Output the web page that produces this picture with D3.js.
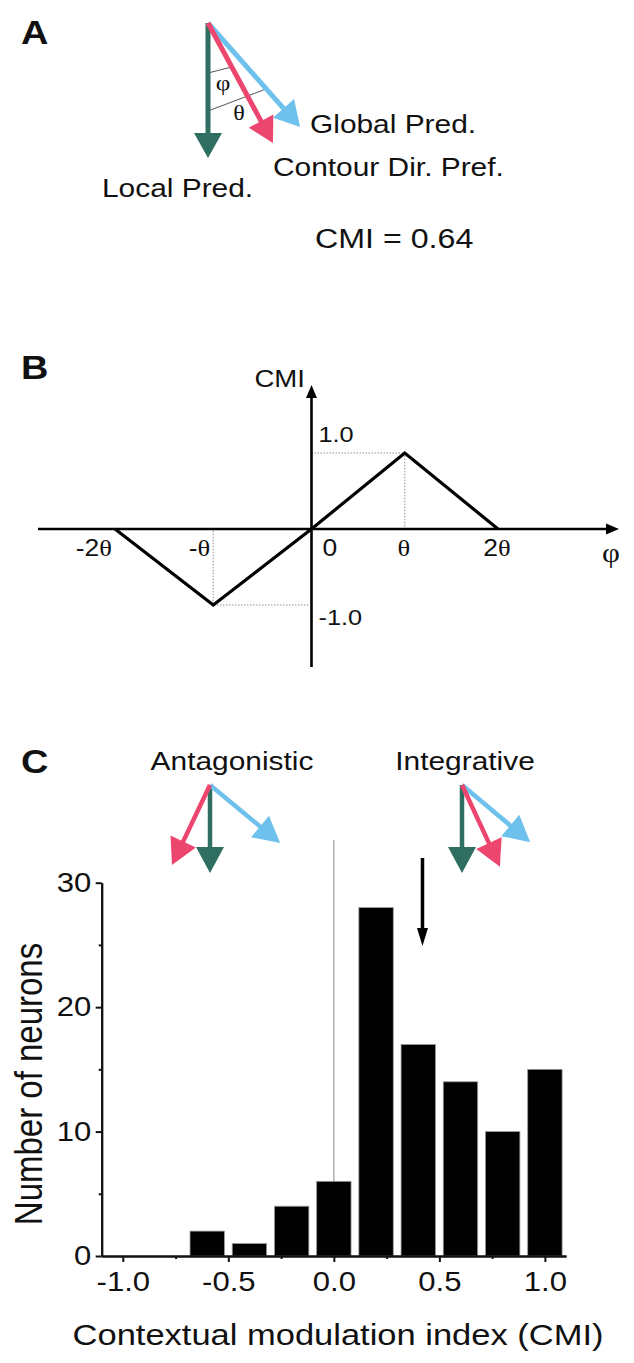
<!DOCTYPE html>
<html lang="en">
<head>
<meta charset="UTF-8">
<title>CMI</title>
<script src="https://d3js.org/d3.v7.min.js" charset="utf-8"></script>
<style>
    body { margin: 0; background: #fff; }
    text { font-family: "Liberation Sans", Arial, sans-serif; fill: #111; }
    .greek { font-family: "Liberation Serif", "Times New Roman", serif; }
</style>
</head>
<body>
<script>
    // panel A: direction of each vector, degrees away from the local prediction
    let vecNames = ["Local Pred.", "Contour Dir. Pref.", "Global Pred."];
    let anglesA = [0, 28.4, 41.5];
    let cmiExample = 0.64;

    // panel B: CMI as a function of phi (in units of theta)
    let phiValues = [-2, -1, 0, 1, 2];
    let cmiValues = [0, -1, 0, 1, 0];
    let phiLabels = ["-2θ", "-θ", "0", "θ", "2θ"];

    // panel C
    let anglesAntag = [0, -25.4, 50.4];
    let anglesInteg = [0, 24.9, 50];
    let binCenters = [-1.0, -0.8, -0.6, -0.4, -0.2, 0.0, 0.2, 0.4, 0.6, 0.8, 1.0];
    let counts = [0, 0, 2, 1, 4, 6, 28, 17, 14, 10, 15];
    let xTicksC = [-1.0, -0.5, 0.0, 0.5, 1.0];
    let xMinorC = [-0.75, -0.25, 0.25, 0.75];
    let yTicksC = [0, 10, 20, 30];
    let yMinorC = [5, 15, 25];
    let meanCMI = 0.42;

    const colors = ["#2f6f61", "#ec466f", "#6ec1ec"];
    const SX = 1.15; // the figure is a bit wider than tall, text too

    let svg = d3.select("body").append("svg").attr("width", 634).attr("height", 1363);

    // text with greek letters in a serif face
    function label(g, x, y, s, size, anchor) {
        let t = g.append("text")
            .attr("transform", "translate(" + x + "," + y + ") scale(" + SX + ",1)")
            .attr("font-size", size)
            .attr("text-anchor", anchor || "start");
        s.split(/([θφ])/).filter(p => p.length).forEach(function (p) {
            let sp = t.append("tspan").text(p);
            if (p == "θ" || p == "φ") sp.attr("class", "greek");
        });
        return t;
    }

    function vector(g, ox, oy, angle, len, color, shaft, headLen, headW) {
        let a = angle * Math.PI / 180;
        let dx = Math.sin(a), dy = Math.cos(a);
        let tip = [ox + len * dx, oy + len * dy];
        let base = [ox + (len - headLen) * dx, oy + (len - headLen) * dy];
        g.append("line")
            .attr("x1", ox).attr("y1", oy)
            .attr("x2", base[0] + 2 * dx).attr("y2", base[1] + 2 * dy)
            .attr("stroke", color).attr("stroke-width", shaft);
        let px = dy * headW / 2, py = -dx * headW / 2;
        g.append("polygon")
            .attr("points", [tip, [base[0] + px, base[1] + py], [base[0] - px, base[1] - py]].map(p => p.join(",")).join(" "))
            .attr("fill", color);
    }

    function vectorSet(g, ox, oy, angles, lens, shaft, headLen, headW) {
        [0, 2, 1].forEach(function (i) {
            vector(g, ox, oy, angles[i], lens[i], colors[i], shaft, headLen, headW);
        });
    }

    function chord(g, ox, oy, a1, a2, r) {
        let p = a => [ox + r * Math.sin(a * Math.PI / 180), oy + r * Math.cos(a * Math.PI / 180)];
        let p1 = p(a1), p2 = p(a2);
        g.append("line").attr("x1", p1[0]).attr("y1", p1[1]).attr("x2", p2[0]).attr("y2", p2[1])
            .attr("stroke", "#555").attr("stroke-width", 1);
    }

    // ---------- A ----------
    let gA = svg.append("g");
    label(gA, 21, 44, "A", 33).attr("font-weight", "bold");
    chord(gA, 208, 23, anglesA[0], anglesA[1], 50);
    chord(gA, 208, 23, anglesA[0], anglesA[2], 88);
    vectorSet(gA, 208, 23, anglesA, [135, 136.5, 139], 5, 25, 28);
    label(gA, 223, 90, "φ", 22, "middle");
    label(gA, 239, 120, "θ", 21, "middle");
    label(gA, 310, 133, vecNames[2], 26);
    label(gA, 273, 176, vecNames[1], 26);
    label(gA, 102, 197, vecNames[0], 26);
    label(gA, 315, 248, "CMI = " + cmiExample, 28);

    // ---------- B ----------
    let gB = svg.append("g");
    label(gB, 21, 379, "B", 33).attr("font-weight", "bold");
    let xB = d3.scaleLinear().domain([-2, 0, 2]).range([115, 311.5, 498]);
    let yB = d3.scaleLinear().domain([-1, 1]).range([605, 453]);

    // dotted guides
    let peaks = phiValues.map((d, i) => [d, cmiValues[i]]).filter(d => d[1] != 0);
    peaks.forEach(function (d) {
        gB.append("path")
            .attr("d", "M" + xB(0) + "," + yB(d[1]) + "H" + xB(d[0]) + "V" + yB(0))
            .attr("fill", "none").attr("stroke", "#b5b5b5").attr("stroke-width", 1.5)
            .attr("stroke-dasharray", "1.5,1.5");
    });

    // axes with arrow heads
    gB.append("line").attr("x1", 38).attr("y1", yB(0)).attr("x2", 608).attr("y2", yB(0))
        .attr("stroke", "#000").attr("stroke-width", 2.6);
    gB.append("polygon").attr("points", [[619, yB(0)], [606, yB(0) - 5.5], [606, yB(0) + 5.5]].map(p => p.join(",")).join(" "));
    gB.append("line").attr("x1", xB(0)).attr("y1", 667).attr("x2", xB(0)).attr("y2", 396)
        .attr("stroke", "#000").attr("stroke-width", 2.6);
    gB.append("polygon").attr("points", [[xB(0), 385], [xB(0) - 5.5, 398], [xB(0) + 5.5, 398]].map(p => p.join(",")).join(" "));

    gB.append("path")
        .datum(phiValues.map((d, i) => [d, cmiValues[i]]))
        .attr("d", d3.line().x(d => xB(d[0])).y(d => yB(d[1])))
        .attr("fill", "none").attr("stroke", "#000").attr("stroke-width", 3.2)
        .attr("stroke-linejoin", "miter");

    // tick labels
    phiValues.forEach(function (d, i) {
        let y = yB(0) + 27;
        if (d < 0) label(gB, xB(d) - 3, y, phiLabels[i], 23, "end");
        else if (d == 0) label(gB, xB(d) + 11, y, phiLabels[i], 23, "start");
        else label(gB, xB(d) - 1, y, phiLabels[i], 23, "middle");
    });
    label(gB, xB(0) + 7, yB(1) - 11, "1.0", 22);
    label(gB, xB(0) + 7, yB(-1) + 20, "-1.0", 22);
    label(gB, 305, 387, "CMI", 24, "end");
    label(gB, 611, 562, "φ", 27, "middle");

    // ---------- C ----------
    let gC = svg.append("g");
    label(gC, 21, 773, "C", 33).attr("font-weight", "bold");
    let xC = d3.scaleLinear().domain([-1.1, 1.1]).range([101.7, 566]);
    let yC = d3.scaleLinear().domain([0, 30]).range([1256, 882.7]);

    label(gC, 232, 770, "Antagonistic", 26, "middle");
    label(gC, 465, 770, "Integrative", 26, "middle");
    vectorSet(gC, 210, 785, anglesAntag, [88, 88.6, 91], 4.5, 26, 28);
    vectorSet(gC, 462, 785, anglesInteg, [88, 90, 89], 4.5, 26, 28);

    // zero line
    gC.append("line").attr("x1", xC(0)).attr("x2", xC(0)).attr("y1", 840).attr("y2", yC(0))
        .attr("stroke", "#b0b0b0").attr("stroke-width", 1.5);

    let half = 0.0815;
    gC.selectAll("rect.bar")
        .data(binCenters.map((c, i) => ({c: c, n: counts[i]})).filter(d => d.n > 0))
        .enter().append("rect")
        .attr("class", "bar")
        .attr("x", d => xC(d.c - half))
        .attr("width", d => xC(d.c + half) - xC(d.c - half))
        .attr("y", d => yC(d.n))
        .attr("height", d => yC(0) - yC(d.n))
        .attr("fill", "#000").attr("stroke", "#999").attr("stroke-width", 0.8);

    // mean arrow
    gC.append("line").attr("x1", xC(meanCMI)).attr("x2", xC(meanCMI)).attr("y1", 858).attr("y2", 930)
        .attr("stroke", "#000").attr("stroke-width", 3.5);
    gC.append("polygon").attr("points",
        [[xC(meanCMI), 946], [xC(meanCMI) - 5.5, 928], [xC(meanCMI) + 5.5, 928]].map(p => p.join(",")).join(" "));

    function styleAxis(g) {
        g.attr("font-size", null).attr("font-family", null);
        g.selectAll("path, line").attr("stroke", "#111").attr("stroke-width", 2);
        g.selectAll("text").attr("font-size", 27).attr("transform", "scale(" + SX + ",1)");
    }

    gC.append("g").attr("transform", "translate(" + xC(-1.1) + ",0)")
        .call(d3.axisLeft(yC).tickValues(yMinorC).tickSize(3).tickSizeOuter(0).tickFormat(""))
        .call(styleAxis);
    gC.append("g").attr("transform", "translate(" + xC(-1.1) + ",0)")
        .call(d3.axisLeft(yC).tickValues(yTicksC).tickSize(6).tickSizeOuter(0).tickPadding(3))
        .call(styleAxis);
    gC.append("g").attr("transform", "translate(0," + yC(0) + ")")
        .call(d3.axisBottom(xC).tickValues(xMinorC).tickSize(3).tickSizeOuter(0).tickFormat(""))
        .call(styleAxis);
    gC.append("g").attr("transform", "translate(0," + yC(0) + ")")
        .call(d3.axisBottom(xC).tickValues(xTicksC).tickSize(6).tickSizeOuter(0).tickPadding(10)
            .tickFormat(d => d.toFixed(1)))
        .call(styleAxis);

    label(gC, 338, 1345, "Contextual modulation index (CMI)", 30, "middle");
    gC.append("text")
        .attr("transform", "translate(42,1084) scale(" + SX + ",1) rotate(-90)")
        .attr("font-size", 33).attr("text-anchor", "middle")
        .text("Number of neurons");
</script>
</body>
</html>
